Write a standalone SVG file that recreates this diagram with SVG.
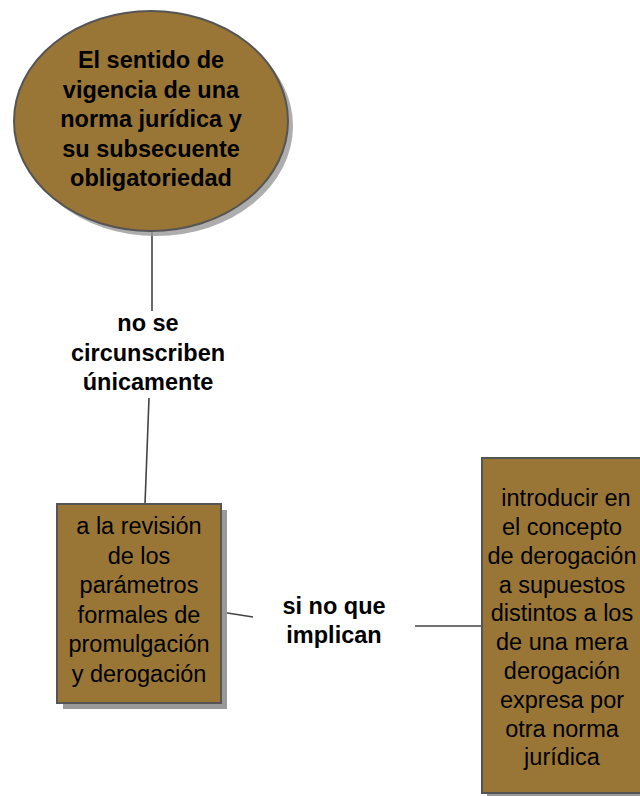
<svg xmlns="http://www.w3.org/2000/svg" width="640" height="796" viewBox="0 0 640 796">
<style>
.node{fill:#997636;stroke:#555;stroke-width:2}
.shadow{fill:#999}
.t{font-family:"Liberation Sans",Arial,sans-serif;font-size:23.5px;fill:#000;text-anchor:middle}
.b{font-weight:bold}
.c{stroke:#444;stroke-width:1.6;fill:none}
</style>
<rect width="640" height="796" fill="#fff"/>
<g id="connectors">
<line class="c" x1="152" y1="232" x2="152" y2="311"/>
<line class="c" x1="149" y1="398" x2="145" y2="504"/>
<line class="c" x1="221" y1="612" x2="253" y2="617"/>
<line class="c" x1="415" y1="626" x2="482" y2="626"/>
</g>
<g id="node-main">
<ellipse class="shadow" cx="156" cy="126" rx="137" ry="110" opacity="0.8"/>
<ellipse class="node" cx="151" cy="121" rx="137" ry="110"/>
<text class="t b" x="151"><tspan x="151" y="68">El sentido de</tspan><tspan x="151" y="97.5">vigencia de una</tspan><tspan x="151" y="127">norma jurídica y</tspan><tspan x="151" y="156.5">su subsecuente</tspan><tspan x="151" y="186">obligatoriedad</tspan></text>
</g>
<g id="label-1">
<text class="t b"><tspan x="148" y="331">no se</tspan><tspan x="148" y="360.5">circunscriben</tspan><tspan x="148" y="390">únicamente</tspan></text>
</g>
<g id="node-box1">
<rect class="shadow" x="63" y="510" width="164" height="199"/>
<rect class="node" x="57" y="504" width="164" height="199"/>
<text class="t"><tspan x="139" y="534">a la revisión</tspan><tspan x="139" y="563.5">de los</tspan><tspan x="139" y="593">parámetros</tspan><tspan x="139" y="622.5">formales de</tspan><tspan x="139" y="652">promulgación</tspan><tspan x="139" y="681.5">y derogación</tspan></text>
</g>
<g id="label-2">
<text class="t b"><tspan x="334" y="614">si no que</tspan><tspan x="334" y="643">implican</tspan></text>
</g>
<g id="node-box2">
<rect class="shadow" x="487" y="463" width="160" height="335"/>
<rect class="node" x="482" y="458" width="160" height="335"/>
<text class="t"><tspan x="566" y="506">introducir en</tspan><tspan x="562" y="535">el concepto</tspan><tspan x="562" y="563.5">de derogación</tspan><tspan x="562" y="592.5">a supuestos</tspan><tspan x="562" y="621">distintos a los</tspan><tspan x="562" y="650">de una mera</tspan><tspan x="562" y="679">derogación</tspan><tspan x="562" y="707.5">expresa por</tspan><tspan x="562" y="736.5">otra norma</tspan><tspan x="562" y="765">jurídica</tspan></text>
</g>
</svg>
